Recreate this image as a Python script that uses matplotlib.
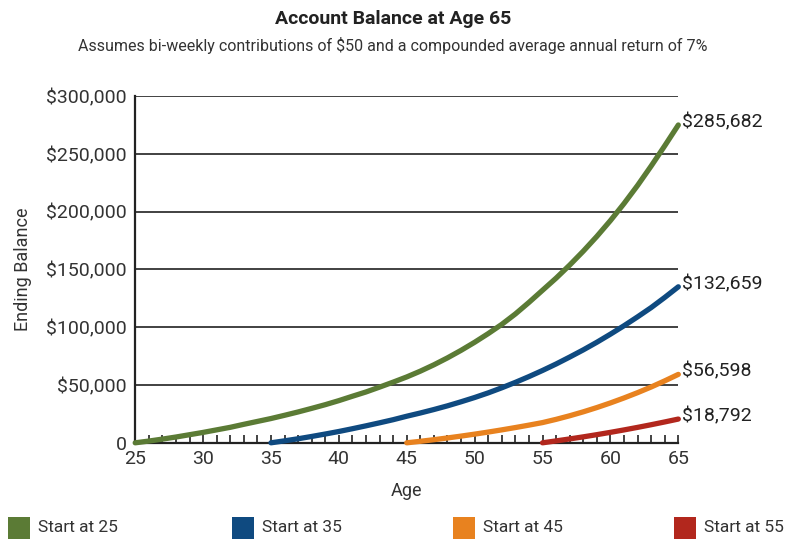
import matplotlib
matplotlib.use('Agg')
import matplotlib.pyplot as plt
from matplotlib.patches import Rectangle
from matplotlib.ticker import FuncFormatter, MultipleLocator

plt.rcParams['font.family'] = ['Roboto', 'DejaVu Sans']

# balances, one value per year of age
ages_25 = list(range(25, 66))
start_25 = [0, 1500, 3200, 5000, 7000, 9000, 11200, 13400, 16000, 18500,
            21000, 23800, 26700, 29800, 33000, 36500, 40300, 44000, 48200, 52500,
            57000, 62000, 67500, 73500, 80000, 87000, 94500, 102500, 111500, 121500,
            132000, 142500, 153800, 165800, 178600, 192300, 207000, 222700, 239500, 257000,
            275000]

ages_35 = list(range(35, 66))
start_35 = [0, 1700, 3500, 5500, 7600, 9800, 12200, 14700, 17300, 20000,
            23000, 25800, 28800, 32000, 35500, 39200, 43200, 47600, 52300, 57300,
            62600, 68200, 74200, 80400, 87000, 94000, 101300, 109000, 117000, 125800,
            135000]

ages_45 = list(range(45, 66))
start_45 = [0, 1300, 2700, 4200, 5800, 7500, 9300, 11200, 13200, 15300,
            17500, 20300, 23400, 26800, 30500, 34500, 38800, 43400, 48300, 53600,
            59200]

ages_55 = list(range(55, 66))
start_55 = [0, 1650, 3350, 5150, 7050, 9050, 11150, 13350, 15650, 18050, 20550]

series_names = ['Start at 25', 'Start at 35', 'Start at 45', 'Start at 55']
end_labels = ['$285,682', '$132,659', '$56,598', '$18,792']
colors = ['#5b7b35', '#0f4a80', '#e8821f', '#b2271d']

W, H = 786, 546
fig = plt.figure(figsize=(7.86, 5.46), dpi=100)
ax = fig.add_axes([0.172, 0.189, 0.691, 0.635])

data = [(ages_25, start_25), (ages_35, start_35), (ages_45, start_45), (ages_55, start_55)]
for (x, y), c, lab in zip(data, colors, end_labels):
    ax.plot(x, y, color=c, lw=3.8, solid_capstyle='round', solid_joinstyle='round',
            clip_on=False, zorder=3)
    ax.text(x[-1] + 0.3, y[-1] + 2500, lab, fontsize=14, color='#222222', va='center', ha='left')

ax.set_xlim(25, 65)
ax.set_ylim(0, 300000)
ax.xaxis.set_major_locator(MultipleLocator(5))
ax.xaxis.set_minor_locator(MultipleLocator(1))
ax.yaxis.set_major_locator(MultipleLocator(50000))
ax.yaxis.set_major_formatter(FuncFormatter(lambda v, p: '0' if v == 0 else '${:,.0f}'.format(v)))

ax.grid(axis='y', color='#333333', lw=1.3)
ax.set_axisbelow(True)
for s in ['top', 'right']:
    ax.spines[s].set_visible(False)
for s in ['left', 'bottom']:
    ax.spines[s].set_color('#222222')
    ax.spines[s].set_linewidth(1.6)

ax.tick_params(axis='x', which='both', direction='in', length=6, width=1.2, color='#222222',
               labelsize=14, labelcolor='#333333', pad=5)
ax.tick_params(axis='y', length=0, labelsize=14, labelcolor='#333333', pad=6)

ax.set_xlabel('Age', fontsize=13, color='#333333', labelpad=10)
ax.set_ylabel('Ending Balance', fontsize=13, color='#333333', labelpad=10)

fig.text(0.5, 0.965, 'Account Balance at Age 65', ha='center', va='center',
         fontsize=14, fontweight='bold', color='#222222')
fig.text(0.5, 0.917, 'Assumes bi-weekly contributions of $50 and a compounded average annual return of 7%',
         ha='center', va='center', fontsize=11.5, color='#333333')

# legend laid out by hand so it spans the full width like the original
legend_x = [8, 232, 453, 674]
for px, c, name in zip(legend_x, colors, series_names):
    fig.patches.append(Rectangle((px / W, (H - 539) / H), 22 / W, 22 / H,
                                 facecolor=c, edgecolor='none', transform=fig.transFigure))
    fig.text((px + 30) / W, (H - 528) / H, name, fontsize=12.5, color='#333333',
             ha='left', va='center')

fig.savefig('out.png', dpi=100)
